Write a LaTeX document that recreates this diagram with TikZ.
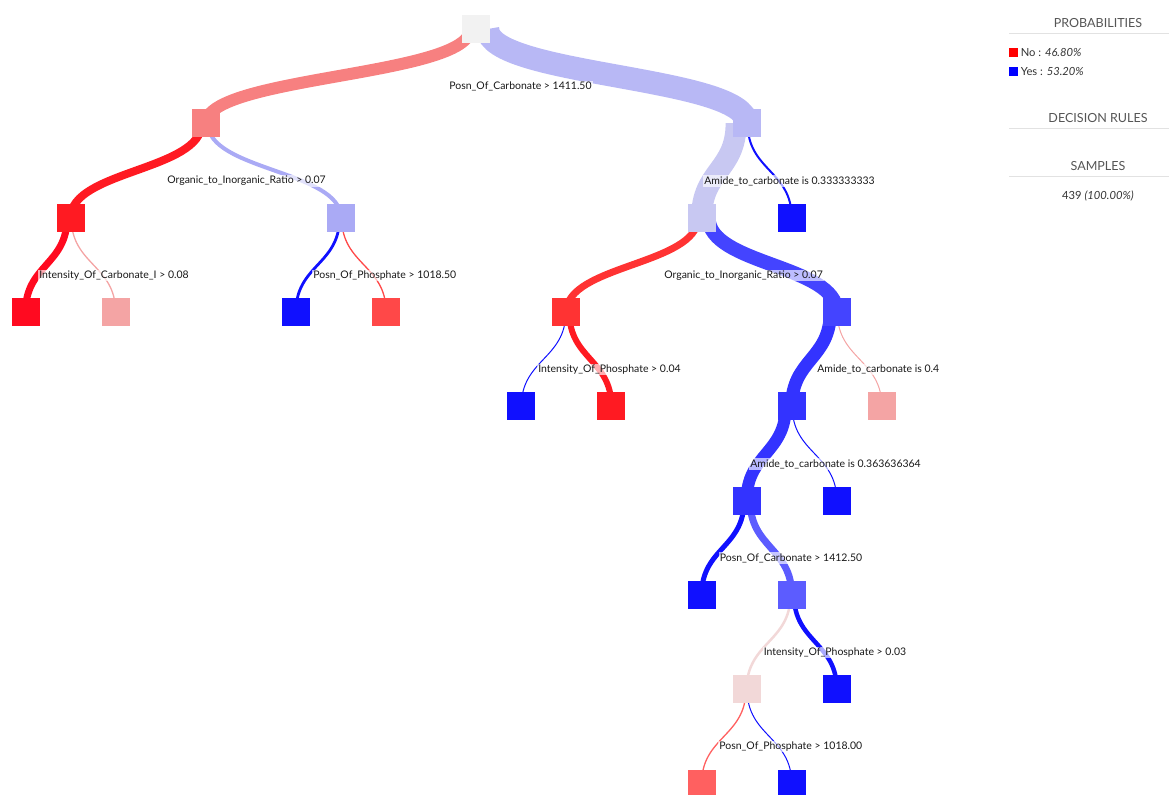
\documentclass[tikz,border=0pt]{standalone}
\usepackage{fontspec}
\setmainfont{Lato}
\usetikzlibrary{calc,backgrounds}
\definecolor{cR}{HTML}{F2F2F2}
\definecolor{cSalmon}{HTML}{F78080}
\definecolor{cLav}{HTML}{B8B8F5}
\definecolor{cRed}{HTML}{FF1A22}
\definecolor{cRedA}{HTML}{FF0A20}
\definecolor{cLavB}{HTML}{AAAAF5}
\definecolor{cLavC}{HTML}{C8C8F2}
\definecolor{cBlue}{HTML}{1010FF}
\definecolor{cPink}{HTML}{F4A4A4}
\definecolor{cRedB}{HTML}{FF4848}
\definecolor{cRedC}{HTML}{FF3333}
\definecolor{cBlueB}{HTML}{4444FF}
\definecolor{cBlueC}{HTML}{3333FF}
\definecolor{cBlueD}{HTML}{5C5CFF}
\definecolor{cPale}{HTML}{F2D8D8}
\definecolor{cRedD}{HTML}{FF6060}
\definecolor{cTitle}{HTML}{555555}
\definecolor{cRule}{HTML}{E2E2E2}
\newcommand\lnk[5]{%
  \path ($(#1.center)+(#5,0)$) coordinate (ls);
  \path ($(ls)!0.5!(#2.center)$) coordinate (lm);
  \draw[line width=#3*0.75pt, draw=#4] (ls) .. controls (ls |- lm) and (#2.center |- lm) .. (#2.center);}
\begin{document}
\begin{tikzpicture}[x=0.75pt,y=-0.75pt,
  sq/.style={rectangle, minimum size=21pt, inner sep=0pt, draw=none},
  lbl/.style={anchor=west, fill=white, fill opacity=0.65, text opacity=1, inner sep=0.8pt, font=\fontsize{7.85pt}{10pt}\selectfont, text=black!90},
  ttl/.style={font=\fontsize{9.4pt}{11pt}\selectfont, text=cTitle},
  lgd/.style={anchor=west, inner sep=0pt, font=\fontsize{8.4pt}{10pt}\selectfont, text=black!80},
  rulel/.style={draw=cRule, line width=1.2pt}]
\path[use as bounding box] (0,0) rectangle (1169,794);
\clip (0,0) rectangle (1169,794);
% nodes
\node[sq, fill=cR] (n0) at (476.2,29) {};
\node[sq, fill=cSalmon] (a1) at (205.8,123.3) {};
\node[sq, fill=cLav] (b1) at (746.6,123.3) {};
\node[sq, fill=cRed] (a2) at (70.6,217.7) {};
\node[sq, fill=cLavB] (b2) at (341.0,217.7) {};
\node[sq, fill=cLavC] (c2) at (701.6,217.7) {};
\node[sq, fill=cBlue] (d2) at (791.7,217.7) {};
\node[sq, fill=cRedA] (a3) at (25.5,312.0) {};
\node[sq, fill=cPink] (b3) at (115.6,312.0) {};
\node[sq, fill=cBlue] (c3) at (295.9,312.0) {};
\node[sq, fill=cRedB] (d3) at (386.1,312.0) {};
\node[sq, fill=cRedC] (e3) at (566.3,312.0) {};
\node[sq, fill=cBlueB] (f3) at (836.8,312.0) {};
\node[sq, fill=cBlue] (a4) at (521.3,406.4) {};
\node[sq, fill=cRed] (b4) at (611.4,406.4) {};
\node[sq, fill=cBlueC] (c4) at (791.7,406.4) {};
\node[sq, fill=cPink] (d4) at (881.8,406.4) {};
\node[sq, fill=cBlueC] (a5) at (746.6,500.7) {};
\node[sq, fill=cBlue] (b5) at (836.8,500.7) {};
\node[sq, fill=cBlue] (a6) at (701.6,595.0) {};
\node[sq, fill=cBlueD] (b6) at (791.7,595.0) {};
\node[sq, fill=cPale] (a7) at (746.6,689.4) {};
\node[sq, fill=cBlue] (b7) at (836.8,689.4) {};
\node[sq, fill=cRedD] (a8) at (701.6,783.7) {};
\node[sq, fill=cBlue] (b8) at (791.7,783.7) {};
% edges
\begin{pgfonlayer}{background}
\lnk{n0}{a1}{12}{cSalmon}{-6}
\lnk{n0}{b1}{23}{cLav}{11.5}
\lnk{a1}{a2}{8}{cRed}{-4}
\lnk{a1}{b2}{4}{cLavB}{2}
\lnk{b1}{c2}{21}{cLavC}{-10.5}
\lnk{b1}{d2}{2}{cBlue}{1}
\lnk{a2}{a3}{7}{cRedA}{-3.5}
\lnk{a2}{b3}{1.3}{cPink}{0.65}
\lnk{b2}{c3}{2.8}{cBlue}{-1.4}
\lnk{b2}{d3}{1.3}{cRedB}{0.65}
\lnk{c2}{e3}{7}{cRedC}{-3.5}
\lnk{c2}{f3}{14}{cBlueB}{7}
\lnk{e3}{a4}{1}{cBlue}{-0.5}
\lnk{e3}{b4}{6}{cRed}{3}
\lnk{f3}{c4}{13}{cBlueC}{-6.5}
\lnk{f3}{d4}{1}{cPink}{0.5}
\lnk{c4}{a5}{12}{cBlueC}{-6}
\lnk{c4}{b5}{1}{cBlue}{0.5}
\lnk{a5}{a6}{5}{cBlue}{-2.5}
\lnk{a5}{b6}{7}{cBlueD}{3.5}
\lnk{b6}{a7}{2.5}{cPale}{-1.25}
\lnk{b6}{b7}{4.5}{cBlue}{2.25}
\lnk{a7}{a8}{1.3}{cRedD}{-0.65}
\lnk{a7}{b8}{1}{cBlue}{0.5}
\end{pgfonlayer}
% labels
\node[lbl] (l0) at (448,86.5) {Posn\_Of\_Carbonate > 1411.50};
\node[lbl] (l1) at (166,181) {Organic\_to\_Inorganic\_Ratio > 0.07};
\node[lbl] (l2) at (703,181) {Amide\_to\_carbonate is 0.333333333};
\node[lbl] (l3) at (38,275.5) {Intensity\_Of\_Carbonate\_I > 0.08};
\node[lbl] (l4) at (312,275.5) {Posn\_Of\_Phosphate > 1018.50};
\node[lbl] (l5) at (663,275.5) {Organic\_to\_Inorganic\_Ratio > 0.07};
\node[lbl] (l6) at (537,369.5) {Intensity\_Of\_Phosphate > 0.04};
\node[lbl] (l7) at (816,369.5) {Amide\_to\_carbonate is 0.4};
\node[lbl] (l8) at (749,464) {Amide\_to\_carbonate is 0.363636364};
\node[lbl] (l9) at (718.5,558) {Posn\_Of\_Carbonate > 1412.50};
\node[lbl] (l10) at (762.5,652.5) {Intensity\_Of\_Phosphate > 0.03};
\node[lbl] (l11) at (718,746.5) {Posn\_Of\_Phosphate > 1018.00};
% side panel
\node[ttl] (tp) at (1098,23) {PROBABILITIES};
\draw[rulel] (1009,33.5) -- (1169,33.5);
\node[rectangle, fill=red, minimum size=6.75pt, inner sep=0pt] (kno) at (1013.5,52.3) {};
\node[lgd] (tno) at (1020.5,52.3) {No : \textit{46.80\%}};
\node[rectangle, fill=blue, minimum size=6.75pt, inner sep=0pt] (kyes) at (1013.5,71.3) {};
\node[lgd] (tyes) at (1020.5,71.3) {Yes : \textit{53.20\%}};
\node[ttl] (td) at (1098,118.5) {DECISION RULES};
\draw[rulel] (1009,128.5) -- (1169,128.5);
\node[ttl] (ts) at (1098,166.5) {SAMPLES};
\draw[rulel] (1009,176.5) -- (1169,176.5);
\node[lgd, anchor=center] (tsv) at (1098,195.5) {439 \textit{(100.00\%)}};
\end{tikzpicture}
\end{document}
